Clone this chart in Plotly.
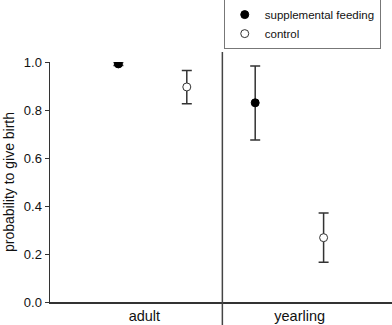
import plotly.graph_objects as go

categories = ["adult", "yearling"]
series_names = ["supplemental feeding", "control"]
# mean, upper, lower per category
fed_mean = [0.992, 0.830]
fed_upper = [0.998, 0.983]
fed_lower = [0.985, 0.675]
ctrl_mean = [0.896, 0.268]
ctrl_upper = [0.965, 0.371]
ctrl_lower = [0.826, 0.166]
y_ticks = [0.0, 0.2, 0.4, 0.6, 0.8, 1.0]

# layout positions (not data)
fed_x = [1, 3]
ctrl_x = [2, 4]
label_x = [1.38, 3.65]
divider_x = 2.52

line_col = "#333333"
font = dict(family="Liberation Sans, Arial, sans-serif", size=13, color="#111111")

fig = go.Figure()
fig.add_trace(go.Scatter(
    x=fed_x, y=fed_mean, mode="markers", name=series_names[0],
    marker=dict(size=8, color="black", line=dict(color="black", width=1)),
    error_y=dict(type="data", symmetric=False,
                 array=[u - m for u, m in zip(fed_upper, fed_mean)],
                 arrayminus=[m - l for m, l in zip(fed_mean, fed_lower)],
                 color=line_col, thickness=1.5, width=5),
))
fig.add_trace(go.Scatter(
    x=ctrl_x, y=ctrl_mean, mode="markers", name=series_names[1],
    marker=dict(size=8, color="white", line=dict(color=line_col, width=1)),
    error_y=dict(type="data", symmetric=False,
                 array=[u - m for u, m in zip(ctrl_upper, ctrl_mean)],
                 arrayminus=[m - l for m, l in zip(ctrl_mean, ctrl_lower)],
                 color=line_col, thickness=1.5, width=5),
))

fig.add_shape(type="line", xref="x", yref="paper",
              x0=divider_x, x1=divider_x, y0=-0.1, y1=1.042,
              line=dict(color="#444444", width=1.5), layer="above")

fig.update_layout(
    width=392, height=325,
    margin=dict(l=50, r=0, t=62, b=23, autoexpand=False),
    paper_bgcolor="white", plot_bgcolor="white",
    font=font,
    showlegend=True,
    hovermode=False,
    legend=dict(x=0.508, y=1.262, xanchor="left", yanchor="top",
                bgcolor="white", bordercolor="#777777", borderwidth=1,
                font=dict(size=11.5), tracegroupgap=0, itemsizing="trace"),
    xaxis=dict(range=[0, 5], tickmode="array", tickvals=label_x, ticktext=categories,
               showgrid=False, zeroline=False, showline=True, linecolor=line_col,
               linewidth=1.5, ticks="", tickfont=dict(size=14.5), fixedrange=True,
               automargin=False, ticklabelstandoff=0),
    yaxis=dict(range=[0, 1], tickmode="array", tickvals=y_ticks,
               ticktext=[f"{v:.1f}" for v in y_ticks],
               showgrid=False, zeroline=False, showline=True, linecolor=line_col,
               linewidth=1.5, ticks="outside", ticklen=4, tickcolor=line_col,
               tickfont=dict(size=13), automargin=False, fixedrange=True,
               title=dict(text="probability to give birth", font=dict(size=14), standoff=6)),
)

fig.write_html("out.html", config={"displayModeBar": False, "staticPlot": True},
               post_script="document.body.style.margin='0';document.body.style.overflow='hidden';")
